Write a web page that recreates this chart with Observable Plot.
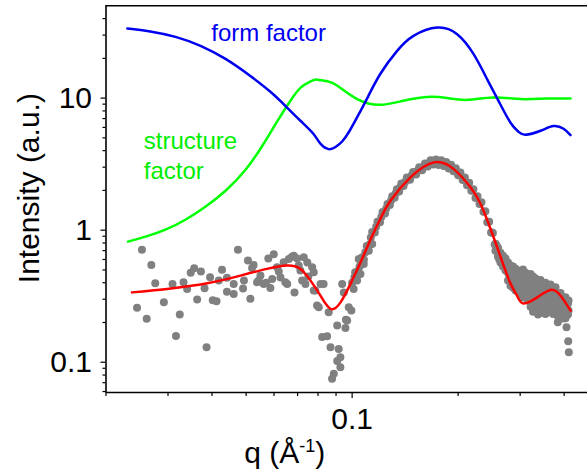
<!DOCTYPE html>
<html><head><meta charset="utf-8">
<script src="https://cdn.jsdelivr.net/npm/d3@7"></script>
<script src="https://cdn.jsdelivr.net/npm/@observablehq/plot@0.6"></script>
<style>
html,body{margin:0;padding:0;background:#fff;overflow:hidden}
#chart svg{display:block}
</style></head><body><div id="chart"></div>
<script>
// axis domains and ticks
const xDomain = [0.02, 0.466];
const yDomain = [0.059, 50];
const xMajorTicks = [0.1];
const xMinorTicks = [0.02,0.03,0.04,0.05,0.06,0.07,0.08,0.09,0.2,0.3,0.4];
const yMajorTicks = [0.1, 1, 10];
const yMinorTicks = [0.06,0.07,0.08,0.09,0.2,0.3,0.4,0.5,0.6,0.7,0.8,0.9,2,3,4,5,6,7,8,9,20,30,40];

// form factor (blue)
const formFactor = [[0.0230,33.6],[0.0267,32.0],[0.0315,29.1],[0.0371,24.9],[0.0437,19.8],[0.0514,14.7],[0.0586,11.16],[0.0646,8.74],[0.0713,6.74],[0.0776,5.37],[0.0813,4.51],[0.0857,4.11],[0.0897,4.26],[0.0938,4.71],[0.0982,5.61],[0.1035,7.22],[0.1105,10.05],[0.1203,15.3],[0.1342,22.8],[0.1494,29.6],[0.1744,34.2],[0.1987,30.5],[0.2211,21.6],[0.2423,13.75],[0.2604,9.54],[0.2817,6.51],[0.2968,5.56],[0.3107,5.28],[0.3428,5.66],[0.3732,6.14],[0.3985,5.86],[0.417,5.25]];

// structure factor (green)
const structureFactor = [[0.0231,0.819],[0.0259,0.893],[0.0295,1.009],[0.0336,1.20],[0.0383,1.506],[0.0437,1.99],[0.0498,2.87],[0.0556,4.36],[0.0614,6.73],[0.0668,9.55],[0.0713,11.96],[0.0762,13.4],[0.0797,13.8],[0.0851,13.4],[0.0908,12.4],[0.1033,9.83],[0.1203,8.9],[0.1399,9.55],[0.1633,10.2],[0.1862,10.0],[0.2122,9.7],[0.252,10.1],[0.3006,9.83],[0.3581,9.93],[0.417,9.93]];

// fit (red)
const fit = [[0.0237,0.338],[0.0298,0.359],[0.0388,0.396],[0.0482,0.453],[0.0573,0.509],[0.0654,0.539],[0.0713,0.509],[0.0762,0.415],[0.0813,0.319],[0.0868,0.254],[0.0927,0.284],[0.0989,0.392],[0.1056,0.568],[0.1127,0.847],[0.1203,1.222],[0.1285,1.67],[0.1464,2.51],[0.1706,3.26],[0.1944,2.90],[0.2168,2.11],[0.2315,1.586],[0.2471,1.026],[0.2638,0.630],[0.2817,0.394],[0.2949,0.314],[0.3066,0.279],[0.3355,0.310],[0.366,0.353],[0.3907,0.319],[0.417,0.246]];

// measured intensity (grey dots)
const measuredLowQ = [[0.0253,0.712],[0.0269,0.546],[0.0276,0.397],[0.0245,0.259],[0.0261,0.213],[0.0292,0.284],[0.0309,0.392],[0.0324,0.230],[0.0316,0.158],[0.0332,0.404],[0.0340,0.359],[0.0348,0.477],[0.0356,0.514],[0.0372,0.486],[0.0363,0.298],[0.0386,0.130],[0.0395,0.441],[0.0381,0.364],[0.0402,0.295],[0.0412,0.289],[0.0427,0.501],[0.0418,0.415],[0.0441,0.437],[0.0441,0.342],[0.0461,0.329],[0.0461,0.392],[0.0474,0.712],[0.0490,0.361],[0.0493,0.415],[0.0506,0.590],[0.0520,0.518],[0.0514,0.302],[0.0525,0.546],[0.0537,0.403],[0.0549,0.453],[0.0561,0.392],[0.0543,0.415],[0.0578,0.609],[0.0599,0.658],[0.0593,0.427],[0.0586,0.365],[0.0619,0.486],[0.0626,0.439],[0.0646,0.403],[0.0639,0.571],[0.0661,0.606],[0.0675,0.630],[0.0686,0.338],[0.0705,0.539],[0.0612,0.523],[0.0654,0.392],[0.0570,0.399],
[0.0683,0.641],[0.0729,0.623],[0.0770,0.523],[0.0778,0.480],[0.0721,0.415],[0.0737,0.392],[0.0778,0.349],[0.0830,0.392],[0.0804,0.261],[0.0858,0.239],[0.0822,0.155],[0.0849,0.157],[0.0868,0.130],[0.0916,0.126],[0.0907,0.190],[0.0957,0.182],[0.0960,0.210],[0.0947,0.338],[0.0978,0.261],[0.0995,0.246],[0.1010,0.359],[0.0926,0.109],[0.0907,0.102],[0.0926,0.0917],[0.0887,0.0817],[0.0877,0.0749],[0.1056,0.466],[0.1079,0.555],[0.1115,0.700],[0.1140,0.786],[0.1044,0.606],[0.0786,0.349],[0.0813,0.392],[0.0937,0.392],[0.0968,0.207],[0.1033,0.415],[0.1068,0.623],[0.0698,0.609],[0.0746,0.568],[0.0713,0.494],[0.0751,0.445],[0.0795,0.2685]];
const measuredPeak = [[0.100,0.40],[0.102,0.48],[0.104,0.49],[0.106,0.59],[0.108,0.60],[0.110,0.76],[0.112,0.78],[0.114,0.97],[0.116,0.96],[0.118,1.16],[0.120,1.15],[0.122,1.37],[0.124,1.34],[0.126,1.58],[0.128,1.55],[0.130,1.81],[0.132,1.76],[0.134,2.04],[0.136,1.96],[0.138,2.26],[0.140,2.16],[0.143,2.50],[0.146,2.41],[0.149,2.76],[0.152,2.64],[0.155,2.99],[0.158,2.84],[0.161,3.20],[0.164,3.03],[0.167,3.38],[0.170,3.14],[0.173,3.43],[0.176,3.12],[0.179,3.38],[0.182,3.06],[0.185,3.28],[0.188,2.93],[0.191,3.13],[0.194,2.79],[0.197,2.94],[0.200,2.60],[0.203,2.73],[0.206,2.40],[0.209,2.51],[0.212,2.19],[0.215,2.29],[0.218,1.99],[0.221,2.04],[0.224,1.75],[0.227,1.81],[0.230,1.58],[0.233,1.63],[0.236,1.38],[0.239,1.39],[0.242,1.15],[0.245,1.16],[0.248,0.96],[0.251,0.95],[0.254,0.78],[0.257,0.77],[0.260,0.64],
[0.1015,0.44],[0.105,0.53],[0.109,0.68],[0.113,0.88],[0.117,1.06],[0.121,1.26],[0.125,1.46],[0.129,1.68],[0.133,1.90],[0.137,2.11],[0.1415,2.33],[0.1475,2.59],[0.1535,2.82],[0.1595,3.02],[0.1655,3.22],[0.1715,3.30],[0.1775,3.27],[0.1835,3.17],[0.1895,3.03],[0.1955,2.85],[0.2015,2.65],[0.2075,2.45],[0.2135,2.23],[0.2195,2.00],[0.2255,1.78],[0.2315,1.60],[0.2375,1.38],[0.2435,1.16],[0.2495,0.96],[0.2555,0.78]];
const measuredHighQ = [[0.2553,0.79],[0.2553,0.70],[0.2638,0.675],[0.2638,0.57],[0.2726,0.61],[0.2726,0.494],[0.2817,0.539],[0.2817,0.453],[0.2817,0.38],[0.2911,0.51],[0.2911,0.43],[0.2911,0.349],[0.3007,0.48],[0.3007,0.40],[0.3007,0.335],[0.3107,0.475],[0.3107,0.39],[0.3107,0.33],[0.3211,0.465],[0.3211,0.38],[0.3211,0.31],[0.3211,0.263],[0.3317,0.43],[0.3317,0.36],[0.3317,0.293],[0.3317,0.246],[0.3427,0.42],[0.3427,0.349],[0.3427,0.28],[0.3427,0.236],[0.3541,0.40],[0.3541,0.335],[0.3541,0.275],[0.3541,0.232],[0.366,0.388],[0.366,0.32],[0.366,0.263],[0.3781,0.37],[0.3781,0.30],[0.3781,0.246],[0.3907,0.335],[0.3907,0.28],[0.3907,0.236],[0.4036,0.31],[0.4036,0.263],[0.4036,0.215],[0.4117,0.293],[0.4117,0.246],[0.3838,0.2006],[0.4062,0.184],[0.4108,0.1443],[0.4124,0.119],
[0.2596,0.737],[0.2596,0.630],[0.2682,0.641],[0.2682,0.530],[0.2771,0.568],[0.2771,0.477],[0.2771,0.415],[0.2864,0.530],[0.2864,0.445],[0.2864,0.366],[0.2959,0.494],[0.2959,0.415],[0.2959,0.342],[0.3057,0.503],[0.3057,0.430],[0.3057,0.361],[0.3057,0.309],[0.3158,0.422],[0.3158,0.349],[0.3158,0.293],[0.3264,0.445],[0.3264,0.342],[0.3264,0.288],[0.3264,0.241],[0.3372,0.394],[0.3372,0.325],[0.3372,0.2685],[0.3372,0.2295],[0.3484,0.380],[0.3484,0.314],[0.3484,0.259],[0.3600,0.361],[0.3600,0.298],[0.3600,0.241],[0.3720,0.349],[0.3720,0.293],[0.3720,0.232],[0.3843,0.325],[0.3843,0.263],[0.3843,0.222],[0.3971,0.305],[0.3971,0.255],[0.3971,0.214],[0.4102,0.278],[0.4102,0.2295],
[0.2618,0.60],[0.2705,0.55],[0.2795,0.50],[0.2795,0.44],[0.2888,0.47],[0.2888,0.40],[0.2984,0.45],[0.2984,0.38],[0.3083,0.44],[0.3083,0.37],[0.3185,0.45],[0.3185,0.39],[0.3185,0.33],[0.3290,0.40],[0.3290,0.32],[0.3290,0.265],[0.3400,0.38],[0.3400,0.31],[0.3400,0.255],[0.3512,0.37],[0.3512,0.30],[0.3512,0.25],[0.3630,0.345],[0.3630,0.285],[0.3630,0.25],[0.3750,0.33],[0.3750,0.275],[0.3750,0.237],[0.3875,0.31],[0.3875,0.26],[0.4000,0.29],[0.4000,0.24]];
const measured = [...measuredLowQ, ...measuredPeak, ...measuredHighQ];

// annotation labels
const formLabel = [{q: 0.0398, I: 27.1, text: "form factor"}];
const structLabel = [{q: 0.0256, I: 2.44, text: "structure\nfactor"}];
const xLabel = ["q (Å-1)"];
const yLabel = ["Intensity (a.u.)"];

const font = "'Liberation Sans', Arial, Helvetica, sans-serif";
const plot = Plot.plot({
  width: 587, height: 471,
  marginLeft: 105.5, marginRight: 0, marginTop: 5.3, marginBottom: 79,
  x: {type: "log", domain: xDomain},
  y: {type: "log", domain: yDomain},
  style: {fontFamily: font, background: "#fff", color: "#000", overflow: "visible"},
  marks: [
    Plot.line(structureFactor, {x: d => d[0], y: d => d[1], stroke: "#00ff00", strokeWidth: 2.5, curve: "natural"}),
    Plot.line(formFactor, {x: d => d[0], y: d => d[1], stroke: "#0000f0", strokeWidth: 2.5, curve: "natural"}),
    Plot.dot(measured, {x: d => d[0], y: d => d[1], r: 4, fill: "#808080", stroke: "none"}),
    Plot.line(fit, {x: d => d[0], y: d => d[1], stroke: "#ff0000", strokeWidth: 2.5, curve: "natural"}),
    Plot.text(formLabel, {x: "q", y: "I", text: "text", fill: "#0000f0", fontSize: 24, textAnchor: "start", lineAnchor: "bottom"}),
    Plot.text(structLabel, {x: "q", y: "I", text: "text", fill: "#00ee00", fontSize: 24, textAnchor: "start", lineAnchor: "bottom", lineHeight: 1.25}),
    Plot.ruleY([yDomain[0], yDomain[1]], {stroke: "#000", strokeWidth: 1.6}),
    Plot.ruleX([xDomain[0]], {stroke: "#000", strokeWidth: 1.6}),
    Plot.axisY(yMinorTicks, {tickSize: 3, tickFormat: () => "", label: null, strokeWidth: 1.2}),
    Plot.axisY(yMajorTicks, {tickSize: 5, tickPadding: 9, fontSize: 30, tickFormat: d => String(d), label: null, strokeWidth: 1.2}),
    Plot.axisX(xMinorTicks, {tickSize: 4, tickFormat: () => "", label: null, strokeWidth: 1.2}),
    Plot.axisX(xMajorTicks, {tickSize: 6, tickPadding: 9, fontSize: 30, tickFormat: d => String(d), label: null, strokeWidth: 1.2}),
    Plot.text(yLabel, {frameAnchor: "left", rotate: -90, dx: -67, dy: -11, lineAnchor: "bottom", textAnchor: "middle", fontSize: 30}),
    Plot.text(xLabel, {frameAnchor: "bottom", dx: -62, dy: 70, lineAnchor: "bottom", textAnchor: "middle", fontSize: 30})
  ]
});
// superscript for the x label
d3.select(plot).selectAll("text").filter(function() { return this.textContent === xLabel[0]; }).each(function() {
  const t = d3.select(this);
  t.text("q (Å");
  t.append("tspan").attr("dy", -11).attr("font-size", 18).text("-1");
  t.append("tspan").attr("dy", 11).text(")");
});
document.getElementById("chart").appendChild(plot);
</script></body></html>
